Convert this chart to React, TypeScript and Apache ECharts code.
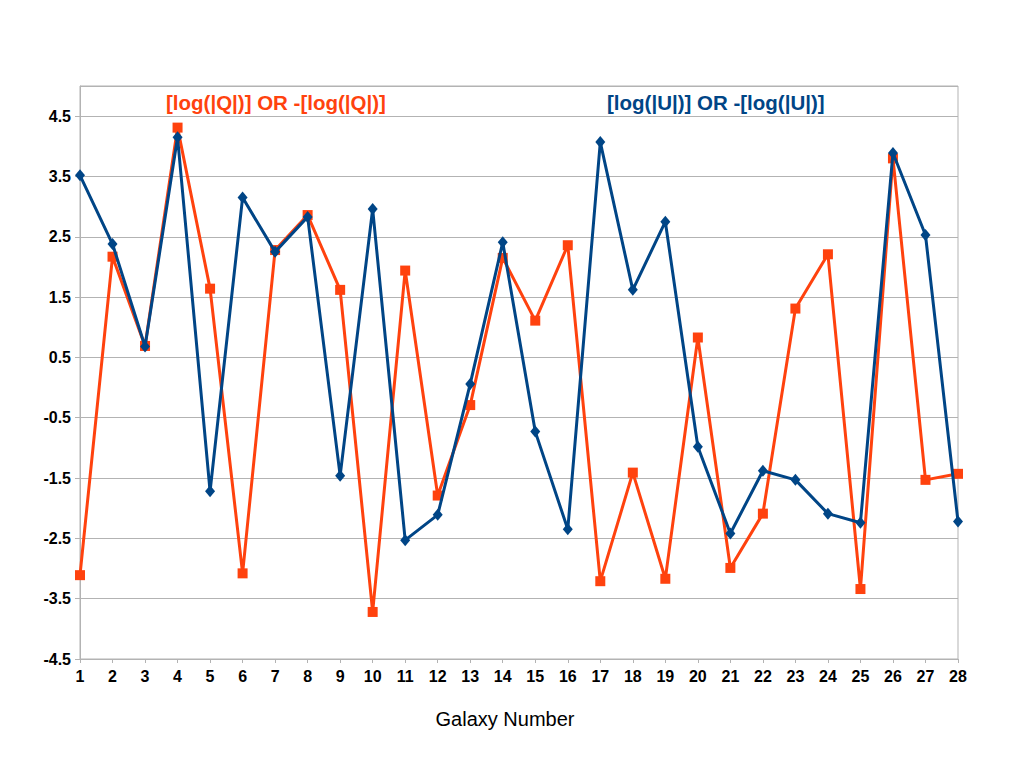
import React, { useEffect, useRef } from "react";
import * as echarts from "echarts";

const galaxies = [
  "1", "2", "3", "4", "5", "6", "7", "8", "9", "10", "11", "12", "13", "14",
  "15", "16", "17", "18", "19", "20", "21", "22", "23", "24", "25", "26", "27", "28",
];
const qValues = [
  -3.11, 2.17, 0.69, 4.31, 1.64, -3.08, 2.28, 2.86, 1.62, -3.72, 1.94, -1.79, -0.29, 2.15,
  1.11, 2.36, -3.21, -1.41, -3.17, 0.83, -2.99, -2.09, 1.31, 2.21, -3.34, 3.8, -1.53, -1.43,
];
const uValues = [
  3.52, 2.38, 0.68, 4.15, -1.72, 3.15, 2.25, 2.83, -1.46, 2.96, -2.53, -2.11, 0.06, 2.41,
  -0.73, -2.35, 4.07, 1.62, 2.75, -0.98, -2.42, -1.38, -1.53, -2.09, -2.24, 3.89, 2.53, -2.22,
];
const qLabel = "[log(|Q|)] OR -[log(|Q|)]";
const uLabel = "[log(|U|)] OR -[log(|U|)]";
const xName = "Galaxy Number";

const FONT = "'Liberation Sans', Arial, sans-serif";
const ORANGE = "#ff420e";
const BLUE = "#004586";
const GRID = "#b3b3b3";

export default function App() {
  const ref = useRef<HTMLDivElement>(null);
  useEffect(() => {
    if (!ref.current) return;
    const chart = echarts.init(ref.current, null, { renderer: "svg" });
    chart.setOption({
      animation: false,
      backgroundColor: "#ffffff",
      textStyle: { fontFamily: FONT },
      grid: {
        left: 80,
        right: 51,
        top: 86,
        bottom: 120,
        show: true,
        borderColor: GRID,
        borderWidth: 1,
        containLabel: false,
      },
      xAxis: {
        type: "category",
        data: galaxies,
        boundaryGap: false,
        name: xName,
        nameLocation: "middle",
        nameGap: 50,
        nameTextStyle: { fontSize: 20, color: "#000", fontFamily: FONT, padding: [0, 28, 0, 0] },
        axisLine: { onZero: false, lineStyle: { color: GRID } },
        axisTick: { show: true, length: 4, lineStyle: { color: GRID }, alignWithLabel: true },
        axisLabel: { fontSize: 16, fontWeight: "bold", color: "#000", margin: 9, fontFamily: FONT },
        splitLine: { show: false },
      },
      yAxis: {
        type: "value",
        min: -4.5,
        max: 5,
        interval: 1,
        axisLine: { show: true, onZero: false, lineStyle: { color: GRID } },
        axisTick: { show: true, length: 5, lineStyle: { color: GRID } },
        axisLabel: {
          fontSize: 16,
          fontWeight: "bold",
          color: "#000",
          margin: 9,
          fontFamily: FONT,
          showMaxLabel: false,
        },
        splitLine: { show: true, lineStyle: { color: GRID, width: 1 } },
      },
      graphic: [
        {
          type: "text",
          left: 166,
          top: 92,
          style: { text: qLabel, fill: ORANGE, font: `bold 20.5px ${FONT}` },
        },
        {
          type: "text",
          left: 607,
          top: 92,
          style: { text: uLabel, fill: BLUE, font: `bold 20.5px ${FONT}` },
        },
      ],
      series: [
        {
          name: qLabel,
          type: "line",
          data: qValues,
          symbol: "rect",
          symbolSize: 10,
          lineStyle: { color: ORANGE, width: 3 },
          itemStyle: { color: ORANGE },
          z: 2,
        },
        {
          name: uLabel,
          type: "line",
          data: uValues,
          symbol: "diamond",
          symbolSize: [10, 12],
          lineStyle: { color: BLUE, width: 3 },
          itemStyle: { color: BLUE },
          z: 3,
        },
      ],
    });
    return () => chart.dispose();
  }, []);
  return (
    <div
      ref={ref}
      style={{ position: "fixed", left: 0, top: 0, width: 1009, height: 779, background: "#fff" }}
    />
  );
}
